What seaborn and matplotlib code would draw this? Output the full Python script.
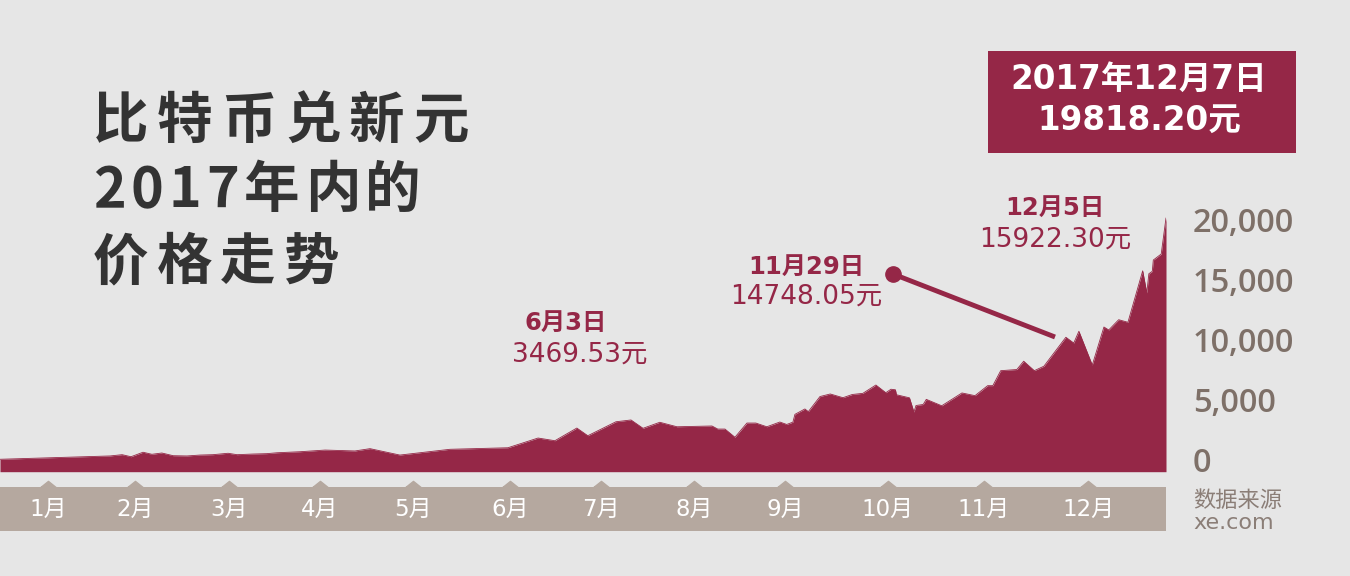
import matplotlib
matplotlib.use('Agg')
import matplotlib.pyplot as plt
import seaborn as sns
from matplotlib.patches import Rectangle
from matplotlib.lines import Line2D
from matplotlib.ticker import FuncFormatter

# colours
BG = '#e6e6e6'
RED = '#952747'
BAND = '#b5a89f'
AXIS_GRAY = '#7e7068'
TITLE = '#333333'

# ----- data (SGD per BTC, 2017, day 0 = Jan 1) -----
day_of_year = [0, 32.1, 35.6, 38.2, 41.7, 44.3, 47.2, 50.5, 54.5, 58.3,
               62.1, 66.5, 69.1, 73.8, 77.8, 80.8, 87.5, 94.8, 103.5, 107.9,
               116.6, 131.2, 148.1, 156.9, 161.8, 168.2, 171.4, 179.6, 184.0, 187.5,
               192.4, 197.4, 207.6, 209.3, 211.4, 214.3, 217.8, 220.4, 223.6, 227.4,
               229.4, 231.2, 231.8, 234.7, 235.7, 239.1, 242.1, 245.8, 248.5, 251.6,
               255.4, 258.3, 259.8, 261.1, 261.4, 265.2, 266.5, 267.1, 269.2, 270.1,
               274.6, 280.5, 284.3, 288.0, 289.5, 291.8, 296.5, 298.5, 301.6, 304.4,
               310.8, 313.1, 314.6, 318.5, 321.9, 323.3, 326.2, 328.9, 333.2, 334.4,
               335.0, 336.0, 336.3, 338.6, 340]
price_sgd = [970, 1230, 1330, 1170, 1520, 1360, 1460, 1250, 1230, 1300,
             1330, 1440, 1330, 1380, 1410, 1480, 1560, 1690, 1620, 1800,
             1300, 1750, 1870, 2630, 2420, 3410, 2810, 3900, 4040, 3390,
             3860, 3510, 3570, 3330, 3330, 2690, 3800, 3800, 3510, 3880,
             3690, 3870, 4480, 4900, 4690, 5870, 6070, 5780, 6030, 6120,
             6770, 6170, 6440, 6400, 6010, 5770, 4660, 5170, 5250, 5650,
             5150, 6150, 5940, 6720, 6720, 7890, 7980, 8630, 7890, 8240,
             10500, 10050, 10970, 8330, 11300, 11070, 11870, 11670, 15690, 13960,
             15460, 15650, 16530, 17000, 19818.20]

month_days = [14.0, 39.4, 66.8, 93.3, 120.4, 148.7, 175.3, 202.4, 228.9, 258.9, 286.9, 317.3]
month_labels = ['1月', '2月', '3月', '4月', '5月', '6月', '7月', '8月', '9月', '10月', '11月', '12月']
axis_ticks = [0, 5000, 10000, 15000, 20000]

note_dates = ['6月3日', '11月29日', '12月5日']
note_prices = [3469.53, 14748.05, 15922.30]
latest_date = '2017年12月7日'
latest_price = 19818.20

title_lines = ['比特币兑新元', '2017年内的', '价格走势']
source_lines = ['数据来源', 'xe.com']

sns.set_theme(style='white')
FONTS = ['DejaVu Sans', 'Noto Sans CJK SC']
plt.rcParams['font.family'] = FONTS

W, H = 1350, 576


def fx(x):
    return x / W


def fy(y):
    return 1 - y / H


fig = plt.figure(figsize=(W / 100, H / 100), dpi=100, facecolor=BG)
renderer = fig.canvas.get_renderer()


def spaced_text(x, y, s, gap, **kw):
    # matplotlib has no letter spacing, so place glyphs one by one
    for ch in s:
        t = fig.text(fx(x), fy(y), ch, ha='left', va='center', **kw)
        x += t.get_window_extent(renderer).width + gap


# main area chart
ax = fig.add_axes([0, fy(471.7), fx(1166), (471.7 - 200) / H])
sns.lineplot(x=day_of_year, y=price_sgd, ax=ax, color=RED, linewidth=0.6)
ax.fill_between(day_of_year, price_sgd, 0, color=RED, linewidth=0)
ax.set_xlim(0, 340)
ax.set_ylim(0, 21220)
ax.set_axis_off()

# value axis on the right
ax2 = ax.twinx()
ax2.set_ylim(-971, 21577)
ax2.set_yticks(axis_ticks)
ax2.yaxis.set_major_formatter(FuncFormatter(lambda v, _: '{:,}'.format(int(v))))
ax2.tick_params(axis='y', length=0, pad=19.5, labelsize=23.5, labelcolor=AXIS_GRAY)
for lab in ax2.get_yticklabels():
    lab.set_fontweight('semibold')
    lab.set_family(['Open Sans', 'DejaVu Sans'])
ax2.set_xticks([])
for s in ax2.spines.values():
    s.set_visible(False)
ax2.patch.set_visible(False)

# month band
axm = fig.add_axes([0, fy(531), fx(1166), 44 / H], sharex=ax)
axm.set_facecolor(BAND)
axm.set_ylim(0, 1)
for s in axm.spines.values():
    s.set_visible(False)
axm.tick_params(left=False, bottom=False, labelleft=False, labelbottom=False)
notch = [(-1, 0), (1, 0), (0, 0.8), (-1, 0)]
axm.plot(month_days, [1] * len(month_days), linestyle='none', marker=notch,
         markersize=11, color=BAND, clip_on=False)
for d, lab in zip(month_days, month_labels):
    axm.text(d, 0.5, lab, ha='center', va='center', color='white', fontsize=16.5)

# title
for y, gap, line in zip([122, 191, 263], [8.5, 5, 8], title_lines):
    spaced_text(93, y, line, gap, fontsize=40, fontweight='bold', color=TITLE,
                family=['Noto Sans CJK SC'])

# latest price box
fig.add_artist(Rectangle((fx(988), fy(153)), 308 / W, 102 / H,
                         transform=fig.transFigure, color=RED, linewidth=0))
fig.text(fx(1139), fy(79), latest_date, ha='center', va='center', fontsize=23.5,
         fontweight='bold', color='white')
fig.text(fx(1139), fy(120), '{:.2f}元'.format(latest_price), ha='center', va='center',
         fontsize=23.5, fontweight='bold', color='white')

# notes
note_pos = [(566, 580, 323, 355), (806, 806, 267, 297), (1055, 1055, 208, 240)]
for (xb, xr, y1, y2), d, p in zip(note_pos, note_dates, note_prices):
    fig.text(fx(xb), fy(y1), d, ha='center', va='center', fontsize=17.5,
             fontweight='bold', color=RED)
    fig.text(fx(xr), fy(y2), '{:.2f}元'.format(p), ha='center', va='center',
             fontsize=19, color=RED)

# pointer from 11月29日
fig.add_artist(Line2D([fx(893), fx(1055)], [fy(274), fy(337)], lw=3.5, color=RED,
                      solid_capstyle='butt'))
fig.add_artist(Line2D([fx(893)], [fy(274)], marker='o', markersize=11, color=RED))

# source
for y, line in zip([501, 523], source_lines):
    fig.text(fx(1193), fy(y), line, ha='left', va='center', fontsize=16,
             color='#8b7e77')

fig.savefig('out.png', dpi=100, facecolor=BG)
